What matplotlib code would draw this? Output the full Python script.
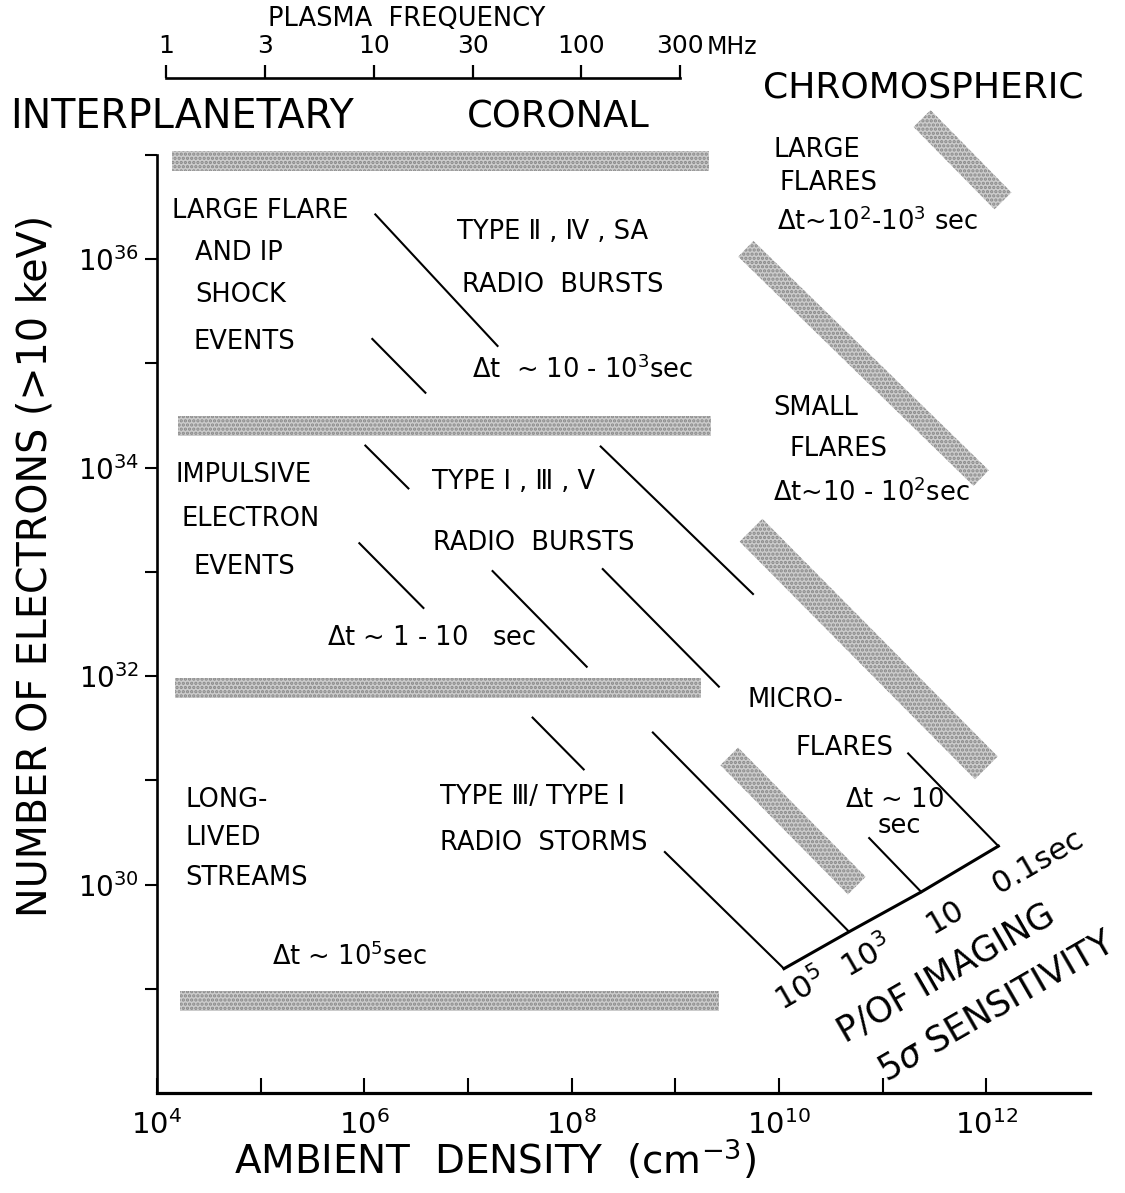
import numpy as np
import matplotlib.pyplot as plt
from matplotlib.patches import Polygon
from matplotlib.ticker import NullLocator

plt.rcParams['font.family'] = ['DejaVu Sans']
plt.rcParams['mathtext.fontset'] = 'dejavusans'
plt.rcParams['hatch.linewidth'] = 1.6

# horizontal bands (log10 density from/to, log10 number of electrons)
hband_x0 = [4.14, 4.20, 4.17, 4.22]
hband_x1 = [9.32, 9.34, 9.25, 9.42]
hband_y = [36.94, 34.40, 31.89, 28.88]

# chromospheric bands, centre line ends in log10 units
dband_x0 = [11.38, 9.68, 9.73, 9.52]
dband_y0 = [37.35, 36.10, 33.40, 31.23]
dband_x1 = [12.16, 11.95, 12.00, 10.75]
dband_y1 = [36.56, 33.90, 31.12, 29.99]
dband_hw = [0.115, 0.105, 0.155, 0.12]

# thin leader lines (log10 units)
lead_x0 = [6.106, 6.077, 6.010, 8.280, 5.952, 7.237, 8.300, 7.623, 8.783, 8.899, 10.870, 11.246]
lead_y0 = [36.430, 35.235, 34.212, 34.203, 33.275, 33.008, 33.027, 31.602, 31.459, 30.312, 30.446, 31.258]
lead_x1 = [7.285, 6.589, 6.425, 9.749, 6.570, 8.145, 9.420, 8.116, 10.676, 10.048, 11.372, 12.116]
lead_y1 = [35.168, 34.719, 33.801, 32.788, 32.654, 32.090, 31.899, 31.105, 29.547, 29.193, 29.929, 30.369]

# imaging sensitivity scale
sens_x = [10.048, 10.676, 11.372, 12.116]
sens_y = [29.193, 29.547, 29.929, 30.369]

# plasma frequency axis
freq = [1, 3, 10, 30, 100, 300]
freq_labels = ['1', '3', '10', '30', '100', '300']

xdec = list(range(4, 13))
ydec = list(range(29, 38))


def f2n(f):
    return (np.asarray(f) * 1e6 / 9.0e3) ** 2


def P(x, y):
    # position on the 1125x1193 canvas -> figure fraction
    return x / 1125, 1 - y / 1193


fig = plt.figure(figsize=(11.25, 11.93), dpi=100)
ax = fig.add_axes([0.13956, 0.08382, 0.82933, 0.78625])
ax.set_xscale('log')
ax.set_yscale('log')
ax.set_xlim(1e4, 1e13)
ax.set_ylim(1e28, 1e37)

band_fc = '#cccccc'
band_ec = '#888888'
for x0, x1, y in zip(hband_x0, hband_x1, hband_y):
    ax.fill_between([10**x0, 10**x1], 10**(y - 0.096), 10**(y + 0.096),
                    facecolor=band_fc, edgecolor=band_ec, hatch='....', linewidth=0, clip_on=False)

for x0, y0, x1, y1, hw in zip(dband_x0, dband_y0, dband_x1, dband_y1, dband_hw):
    d = np.array([x1 - x0, y1 - y0])
    n = np.array([-d[1], d[0]]) / np.hypot(*d) * hw
    pts = np.array([[x0, y0] + n, [x1, y1] + n, [x1, y1] - n, [x0, y0] - n])
    ax.add_patch(Polygon(10**pts, closed=True, facecolor=band_fc, edgecolor=band_ec,
                         hatch='....', linewidth=0, clip_on=False))

for x0, y0, x1, y1 in zip(lead_x0, lead_y0, lead_x1, lead_y1):
    ax.plot([10**x0, 10**x1], [10**y0, 10**y1], color='black', lw=1.5, clip_on=False)

ax.plot(10**np.array(sens_x), 10**np.array(sens_y), color='black', lw=2.2, clip_on=False)

for s in ['top', 'right']:
    ax.spines[s].set_visible(False)
ax.spines['left'].set_linewidth(1.9)
ax.spines['bottom'].set_linewidth(2.3)

ax.xaxis.set_minor_locator(NullLocator())
ax.yaxis.set_minor_locator(NullLocator())
ax.set_xticks([10.0**k for k in xdec])
ax.set_xticklabels([r'$10^{%d}$' % k if k % 2 == 0 else '' for k in xdec])
ax.set_yticks([10.0**k for k in ydec])
ax.set_yticklabels([r'$10^{%d}$' % k if k % 2 == 0 else '' for k in ydec])
ax.tick_params(axis='x', direction='in', length=11, width=1.5, pad=12, labelsize=21)
ax.tick_params(axis='y', direction='out', length=9, width=1.5, pad=4, labelsize=20)

fig.text(*P(495, 1160), r'AMBIENT  DENSITY  (cm$^{-3}$)', fontsize=28, ha='center', va='center')
fig.text(*P(36, 566), 'NUMBER OF ELECTRONS (>10 keV)', fontsize=28.5, rotation=90,
         ha='center', va='center')

# plasma frequency bar on top
axf = fig.add_axes([0.13956, 0.93462, 0.82933, 0.0001])
axf.set_xscale('log')
axf.set_xlim(1e4, 1e13)
axf.patch.set_visible(False)
for s in ['left', 'right', 'bottom']:
    axf.spines[s].set_visible(False)
axf.spines['top'].set_bounds(f2n(freq[0]), f2n(freq[-1]))
axf.spines['top'].set_linewidth(1.9)
axf.xaxis.tick_top()
axf.xaxis.set_minor_locator(NullLocator())
axf.set_xticks(f2n(freq))
axf.set_xticklabels(freq_labels)
axf.set_yticks([])
axf.tick_params(axis='x', direction='out', length=9.5, width=1.6, pad=5, labelsize=18)
fig.text(*P(707, 47), 'MHz', fontsize=17, ha='left', va='center')
fig.text(*P(407, 19), 'PLASMA  FREQUENCY', fontsize=18.5, ha='center', va='center')

# region headings
for s, x, y, fs in [('INTERPLANETARY', 10, 117, 28.5), ('CORONAL', 467, 117, 26.5),
                    ('CHROMOSPHERIC', 763, 88, 26)]:
    fig.text(*P(x, y), s, fontsize=fs, ha='left', va='center')

labels = [
    ('LARGE FLARE', 172, 211), ('AND IP', 195, 253), ('SHOCK', 195, 295), ('EVENTS', 193, 342),
    ('TYPE Ⅱ , Ⅳ , SA', 457, 232), ('RADIO  BURSTS', 462, 285),
    (r'$\Delta$t  ~ 10 - 10$^{3}$sec', 472, 370),
    ('IMPULSIVE', 176, 475), ('ELECTRON', 182, 519), ('EVENTS', 193, 567),
    ('TYPE Ⅰ , Ⅲ , Ⅴ', 432, 482), ('RADIO  BURSTS', 433, 543),
    (r'$\Delta$t ~ 1 - 10   sec', 327, 638),
    ('MICRO-', 748, 700), ('FLARES', 795, 748), (r'$\Delta$t ~ 10', 845, 800),
    ('LONG-', 185, 800), ('LIVED', 185, 838), ('STREAMS', 185, 878),
    ('TYPE Ⅲ/ TYPE Ⅰ', 440, 797), ('RADIO  STORMS', 440, 843),
    (r'$\Delta$t ~ 10$^{5}$sec', 272, 957),
    ('LARGE', 773, 150), ('FLARES', 780, 183), (r'$\Delta$t~10$^{2}$-10$^{3}$ sec', 777, 222),
    ('SMALL', 773, 408), ('FLARES', 790, 449), (r'$\Delta$t~10 - 10$^{2}$sec', 773, 493),
]
for s, x, y in labels:
    fig.text(*P(x, y), s, fontsize=18.5, ha='left', va='center')
fig.text(*P(899, 826), 'sec', fontsize=18.5, ha='center', va='center')

# rotated sensitivity labels
for s, x, y, fs in [(r'$10^{5}$', 800, 990, 22), (r'$10^{3}$', 867, 957, 22), ('10', 945, 917, 22),
                    ('0.1sec', 1038, 862, 22), ('P/OF IMAGING', 946, 973, 25),
                    (r'5$\sigma$ SENSITIVITY', 997, 1006, 25)]:
    fig.text(*P(x, y), s, fontsize=fs, rotation=30, ha='center', va='center',
             rotation_mode='anchor')

fig.savefig('out.png', dpi=100)
